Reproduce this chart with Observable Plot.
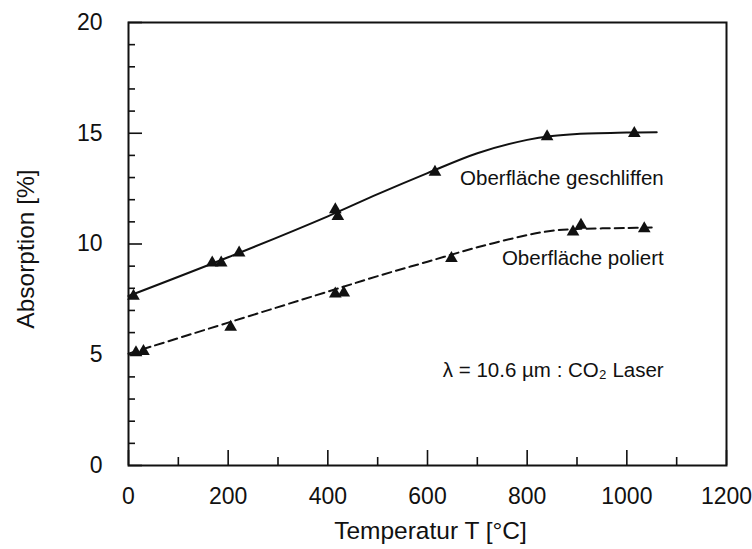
<!DOCTYPE html>
<html><head><meta charset="utf-8">
<script src="https://cdn.jsdelivr.net/npm/d3@7"></script>
<script src="https://cdn.jsdelivr.net/npm/@observablehq/plot@0.6"></script>
<style>body{margin:0;background:#fff}</style>
</head><body><div id="chart"></div>
<script>
// Measured points: Oberfläche geschliffen
const geschliffenT = [10, 168, 186, 222, 415, 420, 615, 840, 1015];
const geschliffenA = [7.65, 9.15, 9.15, 9.6, 11.55, 11.25, 13.25, 14.85, 15.0];
// Measured points: Oberfläche poliert
const poliertT = [15, 30, 205, 415, 432, 648, 892, 908, 1035];
const poliertA = [5.1, 5.15, 6.25, 7.75, 7.8, 9.35, 10.55, 10.85, 10.7];
// Fitted curves as drawn
const geschliffenCurveT = [0, 200, 400, 500, 600, 700, 800, 850, 900, 1000, 1060];
const geschliffenCurveA = [7.65, 9.4, 11.25, 12.25, 13.2, 14.1, 14.7, 14.88, 14.97, 15.03, 15.05];
const poliertCurveT = [0, 200, 400, 500, 600, 700, 800, 850, 900, 1000, 1055];
const poliertCurveA = [5.05, 6.45, 7.85, 8.55, 9.2, 9.85, 10.4, 10.6, 10.68, 10.72, 10.75];
// Axes
const xTicks = [0, 200, 400, 600, 800, 1000, 1200];
const xTickLabels = ["0", "200", "400", "600", "800", "1000", "1200"];
const xMinor = [100, 300, 500, 700, 900, 1100];
const yTicks = [0, 5, 10, 15, 20];
const yTickLabels = ["0", "5", "10", "15", "20"];
const yMinor = [1, 2, 3, 4, 6, 7, 8, 9, 11, 12, 13, 14, 16, 17, 18, 19];
const xLabel = "Temperatur T [°C]";
const yLabel = "Absorption [%]";
// Annotations
const annText = ["Oberfläche geschliffen", "Oberfläche poliert", "λ = 10.6 µm : CO₂ Laser"];
const annT = [1074, 1074, 1074];
const annA = [12.95, 9.34, 4.28];

const pts = (T, A) => T.map((t, i) => ({t, a: A[i]}));
const W = 752, H = 549, mL = 128, mR = 26, mT = 22, mB = 84;
const fw = W - mL - mR, fh = H - mT - mB;

const chart = Plot.plot({
  width: W, height: H,
  marginLeft: mL, marginRight: mR, marginTop: mT, marginBottom: mB,
  x: {domain: [0, 1200]},
  y: {domain: [0, 20]},
  style: {fontFamily: "'Liberation Sans', Arial, sans-serif", background: "white", color: "#111"},
  marks: [
    Plot.frame({stroke: "#111", strokeWidth: 2}),
    Plot.axisX({ticks: xTicks, tickSize: 0, tickPadding: 22, fontSize: 23, label: null,
      tickFormat: d => xTickLabels[xTicks.indexOf(d)]}),
    Plot.axisY({ticks: yTicks, tickSize: 0, tickPadding: 26, fontSize: 23, label: null,
      tickFormat: d => yTickLabels[yTicks.indexOf(d)]}),
    Plot.tickX(xTicks, {x: d => d, insetTop: fh - 15, stroke: "#111", strokeWidth: 1.6}),
    Plot.tickX(xMinor, {x: d => d, insetTop: fh - 8, stroke: "#111", strokeWidth: 1.6}),
    Plot.tickY(yTicks, {y: d => d, insetRight: fw - 14, stroke: "#111", strokeWidth: 1.6}),
    Plot.tickY(yMinor, {y: d => d, insetRight: fw - 7, stroke: "#111", strokeWidth: 1.6}),
    Plot.line(pts(geschliffenCurveT, geschliffenCurveA), {x: "t", y: "a", curve: "catmull-rom", stroke: "#111", strokeWidth: 2}),
    Plot.line(pts(poliertCurveT, poliertCurveA), {x: "t", y: "a", curve: "catmull-rom", stroke: "#111", strokeWidth: 2, strokeDasharray: "9,5"}),
    Plot.dot(pts(geschliffenT, geschliffenA), {x: "t", y: "a", symbol: "triangle", r: 4.7, fill: "#111", stroke: "none"}),
    Plot.dot(pts(poliertT, poliertA), {x: "t", y: "a", symbol: "triangle", r: 4.7, fill: "#111", stroke: "none"}),
    Plot.text(annText.map((s, i) => ({s, t: annT[i], a: annA[i]})), {x: "t", y: "a", text: "s", textAnchor: "end", fontSize: 20.5, fill: "#111"}),
    Plot.text([xLabel], {frameAnchor: "bottom", dy: 66, dx: 3, fontSize: 24.5, fill: "#111", textAnchor: "middle", lineAnchor: "middle"}),
    Plot.text([yLabel], {frameAnchor: "left", dx: -102, dy: 5, rotate: -90, fontSize: 24.5, fill: "#111", textAnchor: "middle", lineAnchor: "middle"})
  ]
});
document.getElementById("chart").appendChild(chart);
</script>
</body></html>
